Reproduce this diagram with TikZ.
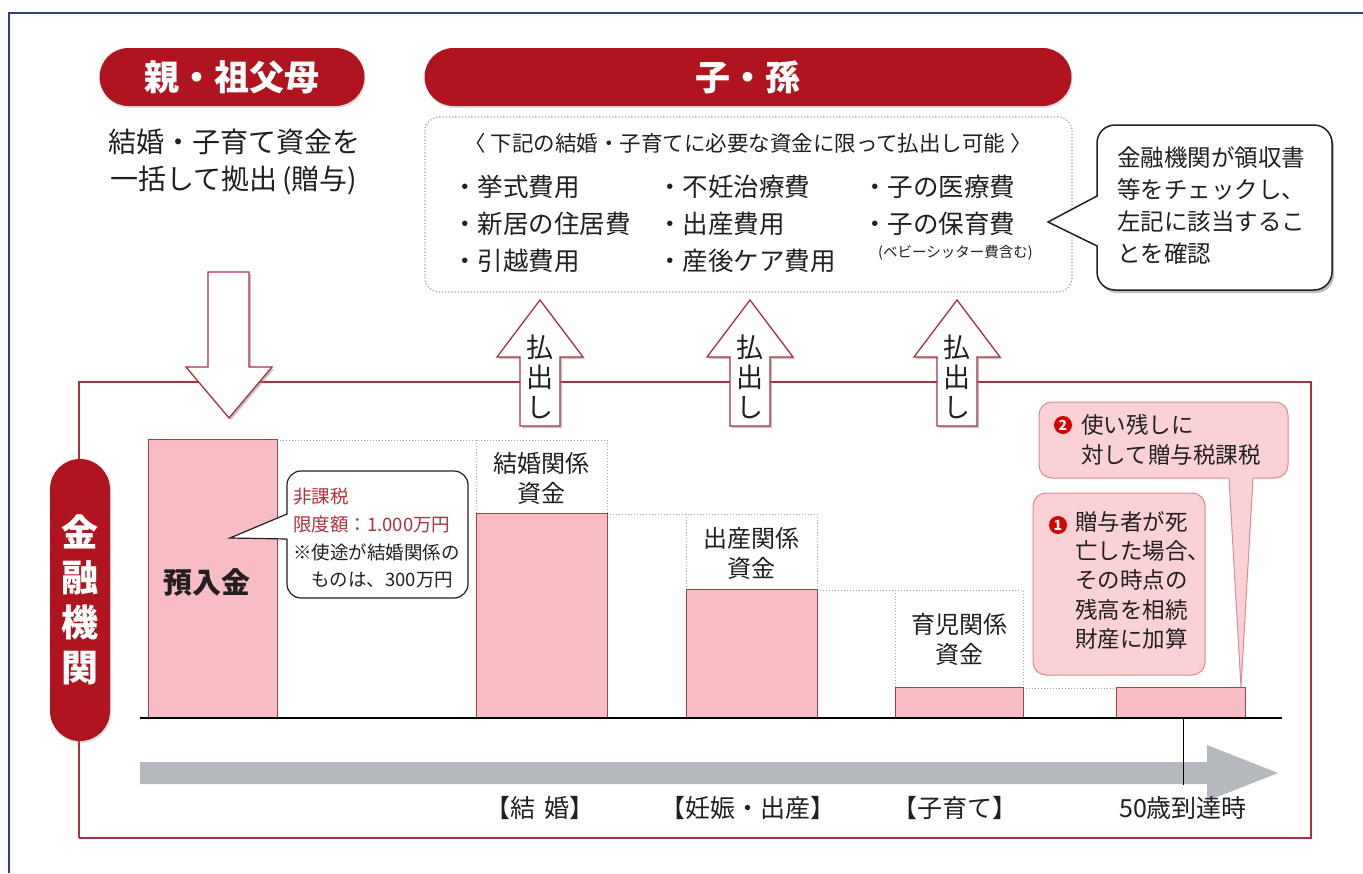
\documentclass[tikz,border=0pt]{standalone}
\usepackage{fontspec}
\setmainfont{Noto Sans CJK JP}
\usetikzlibrary{shadows}
\definecolor{dred}{HTML}{B0151F}
\definecolor{fred}{HTML}{A83240}
\definecolor{barpink}{HTML}{F8BCC5}
\definecolor{barline}{HTML}{A0404A}
\definecolor{calpink}{HTML}{FAD2D6}
\definecolor{calline}{HTML}{DD8A92}
\definecolor{navy}{HTML}{2E3C8C}
\definecolor{txt}{HTML}{231F20}
\definecolor{redtxt}{HTML}{B0303C}
\definecolor{arrgray}{HTML}{B5B9BD}
\newcommand\fsz[2]{\fontsize{#1}{#2}\selectfont}
\tikzset{
  pill/.style={fill=dred, text=white, rounded corners=29pt, inner sep=0pt, font=\fsz{35}{40}\bfseries,
    drop shadow={opacity=0.25, shadow xshift=1pt, shadow yshift=-2pt}},
  body/.style={text=txt, inner sep=0pt},
  bar/.style={draw=barline, fill=barpink, line width=0.9pt, inner sep=0pt, anchor=south west},
  dots/.style={draw=gray!70, dotted, line width=1pt},
  blockarrow/.style={draw=fred, fill=white, line width=1.3pt, line join=miter,
    drop shadow={opacity=0.45, shadow xshift=2pt, shadow yshift=-2pt}},
  pinkbox/.style={draw=calline, fill=calpink, line width=1pt, rounded corners=13pt},
  num/.style={circle, fill=red!85!black, text=white, inner sep=0pt, minimum size=18pt, font=\fsz{14}{14}\bfseries},
}
\begin{document}
\begin{tikzpicture}[x=1pt, y=-1pt]
\useasboundingbox (0,0) rectangle (1363,873);
\fill[white] (0,0) rectangle (1363,873);
% outer navy frame
\draw[navy, line width=1.6pt] (9,873) -- (9,13) -- (1363,13);

% ---------- top headers ----------
\node[pill, minimum width=265pt, minimum height=58pt] (parent) at (232,77) {親・祖父母};
\node[pill, minimum width=647pt, minimum height=58pt] (child) at (748,77) {子・孫};

\node[body, align=center, font=\fsz{28}{37}] (gift) at (234,162) {結婚・子育て資金を\\一括して拠出\,(贈与)};

% dotted list box
\node[draw=gray!75, dotted, line width=1.2pt, rounded corners=14pt, minimum width=647pt, minimum height=175pt] (list) at (748.5,204.5) {};
\node[body, font=\fsz{21.5}{24}] (hdr) at (748,143) {〈 下記の結婚・子育てに必要な資金に限って払出し可能 〉};
\begin{scope}[every node/.style={body, anchor=west, font=\fsz{25.5}{28}}]
\node (i11) at (452,187) {・挙式費用};
\node (i12) at (452,224) {・新居の住居費};
\node (i13) at (452,261) {・引越費用};
\node (i21) at (657,187) {・不妊治療費};
\node (i22) at (657,224) {・出産費用};
\node (i23) at (657,261) {・産後ケア費用};
\node (i31) at (862,187) {・子の医療費};
\node (i32) at (862,224) {・子の保育費};
\end{scope}
\node[body, anchor=west, font=\fsz{14.5}{16}] (i33) at (878,253) {(ベビーシッター費含む)};

% speech bubble right
\path[draw=txt, fill=white, line width=1.5pt, rounded corners=18pt,
  drop shadow={opacity=0.5, shadow xshift=2pt, shadow yshift=-3pt}] (1097,125) rectangle (1332,290);
\fill[white] (1099,196) -- (1048,222) -- (1099,246) -- cycle;
\draw[txt, line width=1.5pt, line join=miter] (1097,196) -- (1048,222) -- (1097,246);
\node[body, anchor=north west, align=left, font=\fsz{23.5}{32}] (check) at (1117,146) {金融機関が領収書\\等をチェックし、\\左記に該当するこ\\とを確認};

% ---------- red frame + bank pill ----------
\coordinate (fA) at (79,382);
\coordinate (fB) at (1311,382);
\coordinate (fC) at (1311,838);
\coordinate (fD) at (79,838);
\draw[fred, line width=1.6pt] (fD) -- (fC) -- (fB) -- (fA) -- (79,470);
\draw[fred, line width=1.6pt] (79,730) -- (fD);
\node[pill, minimum width=60pt, minimum height=282pt, rounded corners=30pt, font=\fsz{37}{45}\bfseries, align=center] (bank) at (80,600) {金\\融\\機\\関};

% down arrow
\path[blockarrow] (208,272) -- (249,272) -- (249,367) -- (272,367) -- (229,418) -- (186,367) -- (208,367) -- cycle;

% up arrows
\foreach \cx/\nm in {540/upA, 750/upB, 957/upC}{
  \path[blockarrow] (\cx-20,426) -- (\cx-20,357) -- (\cx-43,357) -- (\cx,300) -- (\cx+43,357) -- (\cx+20,357) -- (\cx+20,426) -- cycle;
  \node[body, align=center, font=\fsz{27}{30}] (\nm) at (\cx,377) {払\\出\\し};
}

% ---------- bars ----------
% dotted guides
\draw[dots] (277,440) -- (607,440) -- (607,514);
\draw[dots] (476,440) -- (476,514);
\draw[dots] (607,514) -- (817,514) -- (817,590);
\draw[dots] (686,514) -- (686,590);
\draw[dots] (817,590) -- (1023,590) -- (1023,688);
\draw[dots] (895,590) -- (895,688);
\draw[dots] (1023,688) -- (1116,688);

\node[bar, minimum width=129pt, minimum height=278pt] (b0) at (148,718) {};
\node[bar, minimum width=131pt, minimum height=204pt] (b1) at (476,718) {};
\node[bar, minimum width=131pt, minimum height=128pt] (b2) at (686,718) {};
\node[bar, minimum width=128pt, minimum height=30pt] (b3) at (895,718) {};
\node[bar, minimum width=129pt, minimum height=30pt] (b4) at (1116,718) {};

\node[body, font=\fsz{29}{32}\bfseries] (dep) at (207,582) {預入金};
\node[body, align=center, font=\fsz{24}{30}] (l1) at (541,478) {結婚関係\\資金};
\node[body, align=center, font=\fsz{24}{30}] (l2) at (751,553) {出産関係\\資金};
\node[body, align=center, font=\fsz{24}{30}] (l3) at (959,639) {育児関係\\資金};

% tax-free callout
\path[draw=txt, fill=white, line width=1.2pt, rounded corners=14pt] (287,471) rectangle (468,598);
\fill[white] (289,514) -- (230,538) -- (289,539) -- cycle;
\draw[txt, line width=1.2pt, line join=miter] (287,514) -- (230,538) -- (287,539);
\node[body, anchor=west, text=redtxt, font=\fsz{18.5}{22}] (tf1) at (293,497) {非課税};
\node[body, anchor=west, text=redtxt, font=\fsz{18.5}{22}] (tf2) at (293,524) {限度額：1.000万円};
\node[body, anchor=west, font=\fsz{18.5}{22}] (tf3) at (293,552) {※使途が結婚関係の};
\node[body, anchor=west, font=\fsz{18.5}{22}] (tf4) at (311,580) {ものは、300万円};

% baseline
\draw[black, line width=2.4pt] (140,718) -- (1282,718);

% time arrow
\fill[arrgray] (140,762) -- (1207,762) -- (1207,745) -- (1278,773) -- (1207,801) -- (1207,784) -- (140,784) -- cycle;
\coordinate (tick) at (1183,785);
\draw[black, line width=0.8pt] (1183,718) -- (tick);
\begin{scope}[every node/.style={body, font=\fsz{25}{28}}]
\node (t1) at (540,808) {【結\,\,婚】};
\node (t2) at (748,808) {【妊娠・出産】};
\node (t3) at (955,808) {【子育て】};
\node (t4) at (1183,808) {50歳到達時};
\end{scope}

% pink callouts
\path[pinkbox] (1039,402) rectangle (1288,478);
\fill[calpink] (1229,476) -- (1241,687) -- (1253,476) -- cycle;
\draw[calline, line width=1pt, line join=miter] (1229,478) -- (1241,687) -- (1253,478);
\node[num] (n2) at (1063,425) {2};
\node[body, anchor=west, font=\fsz{22.5}{26}] (c21) at (1081,425) {使い残しに};
\node[body, anchor=west, font=\fsz{22.5}{26}] (c22) at (1081,455) {対して贈与税課税};

\path[pinkbox] (1033,493) rectangle (1205,675);
\node[num] (n1) at (1058,525) {1};
\node[body, anchor=north west, align=left, font=\fsz{22.5}{29.3}] (c1) at (1075,511) {贈与者が死\\亡した場合、\\その時点の\\残高を相続\\財産に加算};
\end{tikzpicture}
\end{document}
